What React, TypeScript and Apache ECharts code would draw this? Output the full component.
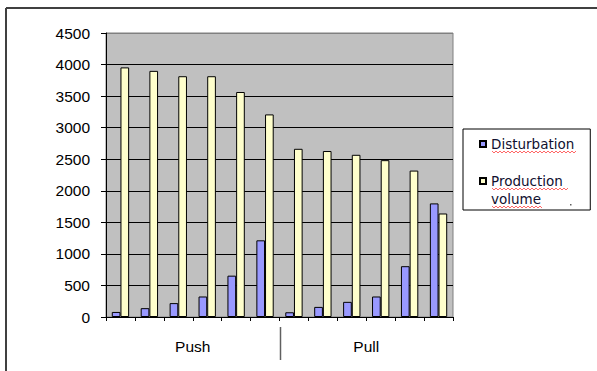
import React, { useEffect, useRef } from "react";
import * as echarts from "echarts";

const categories = ["P1", "P2", "P3", "P4", "P5", "P6", "L1", "L2", "L3", "L4", "L5", "L6"];
const groups = ["Push", "Pull"];
const disturbation = [80, 140, 220, 325, 655, 1215, 75, 160, 240, 325, 805, 1800];
const productionVolume = [3955, 3900, 3815, 3815, 3565, 3210, 2665, 2630, 2570, 2485, 2320, 1640];
const yMin = 0;
const yMax = 4500;
const yStep = 500;

function wavy(x0: number, x1: number, y: number): number[][] {
  const pts: number[][] = [];
  let up = true;
  for (let x = x0; x <= x1; x += 2) {
    pts.push([x, up ? y - 1 : y + 1]);
    up = !up;
  }
  return pts;
}

export default function App() {
  const ref = useRef<HTMLDivElement>(null);
  useEffect(() => {
    if (!ref.current) return;
    const chart = echarts.init(ref.current, null, { renderer: "svg" });
    const font = "'Liberation Sans', Arial, sans-serif";
    const legendFont = "'DejaVu Sans', Tahoma, sans-serif";
    const splitColors: string[] = [];
    for (let v = yMin; v <= yMax; v += yStep) splitColors.push(v === yMax ? "#808080" : "#000000");

    chart.setOption({
      animation: false,
      backgroundColor: "#ffffff",
      grid: {
        left: 106,
        top: 33,
        right: 144,
        bottom: 54,
        show: true,
        backgroundColor: "#c0c0c0",
        borderColor: "#808080",
        borderWidth: 1,
      },
      legend: {
        orient: "vertical",
        left: 463,
        top: 129,
        padding: [6, 16, 2, 16],
        itemGap: 1,
        itemWidth: 6,
        itemHeight: 6,
        icon: "rect",
        borderColor: "#000000",
        borderWidth: 1,
        backgroundColor: "#ffffff",
        z: 4,
        textStyle: {
          fontFamily: legendFont,
          fontSize: 13.5,
          color: "#101030",
          lineHeight: 18,
        },
        data: [{ name: "Disturbation" }, { name: "Production volume" }],
        formatter: (name: string) => (name === "Production volume" ? "\u00a0\nProduction\nvolume" : name),
      },
      xAxis: [
        {
          type: "category",
          data: categories,
          axisLine: { show: true, lineStyle: { color: "#000000", width: 1 } },
          axisTick: { show: true, length: 4, interval: 0, lineStyle: { color: "#000000" } },
          axisLabel: { show: false },
          splitLine: { show: false },
        },
        {
          type: "category",
          data: groups,
          position: "bottom",
          axisLine: { show: false },
          axisTick: { show: false },
          axisLabel: { margin: 21, fontFamily: font, fontSize: 15.5, color: "#000000" },
          splitLine: { show: false },
        },
      ],
      yAxis: {
        type: "value",
        min: yMin,
        max: yMax,
        interval: yStep,
        axisLine: { show: true, lineStyle: { color: "#000000", width: 1 } },
        axisTick: { show: true, length: 5, inside: false, lineStyle: { color: "#000000" } },
        axisLabel: {
          margin: 16,
          fontFamily: font,
          fontSize: 15.5,
          color: "#000000",
          formatter: (v: number) => String(v),
        },
        splitLine: { show: true, lineStyle: { color: splitColors, width: 1 } },
      },
      series: [
        {
          name: "Disturbation",
          type: "bar",
          data: disturbation,
          barGap: "0%",
          barCategoryGap: "40%",
          itemStyle: { color: "#9999ff", borderColor: "#000000", borderWidth: 1 },
        },
        {
          name: "Production volume",
          type: "bar",
          data: productionVolume,
          itemStyle: { color: "#ffffcc", borderColor: "#000000", borderWidth: 1 },
        },
      ],
    });

    const a = chart.convertToPixel({ xAxisIndex: 0 }, categories[5]) as number;
    const b = chart.convertToPixel({ xAxisIndex: 0 }, categories[6]) as number;
    const sepX = Math.round((a + b) / 2) + 0.5;
    const wavyStyle = { stroke: "#ff4040", lineWidth: 0.8, fill: "none" };

    chart.setOption({
      graphic: [
        { type: "line", z: 100, shape: { x1: 6, y1: 8, x2: 597, y2: 8 }, style: { stroke: "#404040", lineWidth: 2 } },
        { type: "line", z: 100, shape: { x1: 6, y1: 8, x2: 6, y2: 371 }, style: { stroke: "#404040", lineWidth: 2 } },
        { type: "line", z: 100, shape: { x1: sepX, y1: 327, x2: sepX, y2: 360 }, style: { stroke: "#606060", lineWidth: 1.5 } },
        { type: "polyline", z: 100, shape: { points: wavy(492, 576, 152) }, style: wavyStyle },
        { type: "polyline", z: 100, shape: { points: wavy(492, 568, 189) }, style: wavyStyle },
        { type: "polyline", z: 100, shape: { points: wavy(492, 542, 207) }, style: wavyStyle },
        { type: "rect", z: 100, shape: { x: 570, y: 204, width: 1.5, height: 1.5 }, style: { fill: "#606060" } },
      ],
    });

    return () => chart.dispose();
  }, []);
  return <div ref={ref} style={{ width: 597, height: 371, position: "absolute", left: 0, top: 0 }} />;
}
